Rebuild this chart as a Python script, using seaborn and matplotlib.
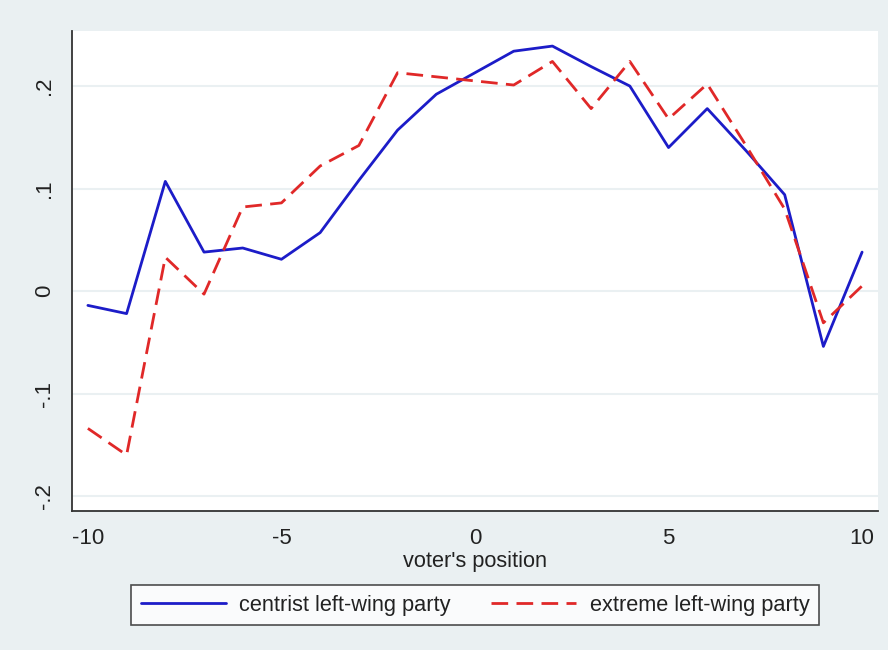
import pandas as pd
import seaborn as sns
import matplotlib.pyplot as plt

# voter's position on the left-right scale
position = list(range(-10, 11))

# values
centrist = [-0.014, -0.022, 0.107, 0.038, 0.042, 0.031, 0.057, 0.108, 0.157,
            0.192, 0.213, 0.234, 0.239, 0.219, 0.200, 0.140, 0.178, 0.137,
            0.094, -0.054, 0.038]
extreme = [-0.134, -0.160, 0.033, -0.003, 0.082, 0.086, 0.122, 0.142, 0.213,
           0.209, 0.205, 0.201, 0.224, 0.178, 0.224, 0.168, 0.202, 0.142,
           0.080, -0.031, 0.005]

series_names = ['centrist left-wing party', 'extreme left-wing party']
y_ticks = [-0.2, -0.1, 0, 0.1, 0.2]
y_labels = ['-.2', '-.1', '0', '.1', '.2']
x_ticks = [-10, -5, 0, 5, 10]

df = pd.DataFrame({'position': position * 2,
                   'value': centrist + extreme,
                   'party': [series_names[0]] * len(position) + [series_names[1]] * len(position)})

bg = '#EAF0F2'
sns.set_style('white')
plt.rcParams['font.family'] = ['Liberation Sans', 'DejaVu Sans']

fig = plt.figure(figsize=(8.88, 6.5), dpi=100, facecolor=bg)
ax = fig.add_axes([0.0811, 0.2138, 0.9076, 0.7385])
ax.set_facecolor('white')

sns.lineplot(data=df, x='position', y='value', hue='party', style='party',
             palette={series_names[0]: '#1c1cc8', series_names[1]: '#e02828'},
             dashes={series_names[0]: '', series_names[1]: (6, 3)},
             linewidth=2, ax=ax, legend=False)

ax.set_xlim(-10.41, 10.41)
ax.set_ylim(-0.2146, 0.2537)
ax.set_yticks(y_ticks)
ax.set_yticklabels(y_labels, rotation=90, va='center')
ax.set_xticks(x_ticks)
ax.set_xticklabels([str(t) for t in x_ticks])
ax.tick_params(axis='both', direction='out', length=7, width=1.2, color='#333333',
               labelsize=16, labelcolor='#222222', pad=5)
ax.yaxis.grid(True, color=bg, linewidth=1.5)
ax.set_axisbelow(True)

for side in ['top', 'right']:
    ax.spines[side].set_visible(False)
for side in ['left', 'bottom']:
    ax.spines[side].set_color('#333333')
    ax.spines[side].set_linewidth(1.3)

ax.set_xlabel("voter's position", fontsize=15.7, color='#222222', labelpad=2)
ax.set_ylabel('')

handles = [plt.Line2D([], [], color='#1c1cc8', linewidth=2),
           plt.Line2D([], [], color='#e02828', linewidth=2, dashes=(6, 3))]
leg = fig.legend(handles, series_names, loc='center', bbox_to_anchor=(0.535, 0.069),
                 ncol=2, fontsize=15.7, frameon=True, fancybox=False,
                 handlelength=3.9, handletextpad=0.6, columnspacing=1.88,
                 borderpad=0.45)
leg.get_frame().set_edgecolor('#222222')
leg.get_frame().set_linewidth(1.2)
leg.get_frame().set_facecolor('white')
for t in leg.get_texts():
    t.set_color('#222222')

fig.savefig('out.png', dpi=100, facecolor=bg)
